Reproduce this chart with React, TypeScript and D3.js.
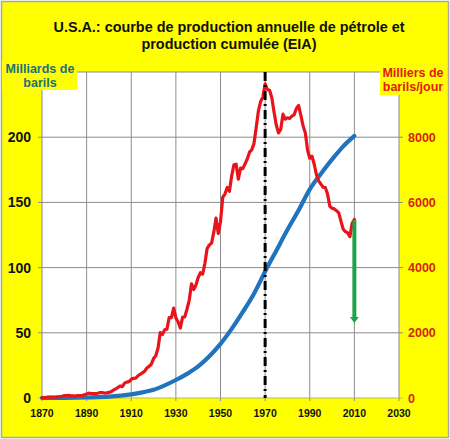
import * as d3 from 'd3';

// Production annuelle (milliers de barils/jour), 1870..2010
const prodYears = d3.range(1870, 2011);
const prodValues = [
  14, 14, 17, 27, 30, 24, 25, 37, 42, 55,
  72, 76, 83, 64, 66, 60, 77, 77, 75, 96,
  126, 149, 138, 133, 135, 145, 167, 166, 152, 156,
  174, 190, 243, 275, 320, 369, 347, 455, 488, 502,
  574, 604, 609, 681, 728, 770, 822, 919, 975, 1037,
  1210, 1294, 1527, 2007, 1951, 2092, 2112, 2469, 2463, 2760,
  2460, 2332, 2145, 2481, 2488, 2730, 3005, 3505, 3327, 3466,
  3697, 3842, 3799, 4125, 4584, 4695, 4751, 5088, 5520, 5046,
  5407, 6158, 6256, 6458, 6342, 6807, 7151, 7170, 6710, 7054,
  7035, 7183, 7332, 7542, 7614, 7804, 8295, 8810, 9096, 9238,
  9637, 9463, 9441, 9208, 8774, 8375, 8132, 8245, 8707, 8552,
  8597, 8572, 8649, 8688, 8879, 8971, 8680, 8349, 8140, 7613,
  7355, 7417, 7171, 6847, 6662, 6560, 6465, 6452, 6252, 5881,
  5822, 5801, 5746, 5681, 5419, 5178, 5102, 5064, 4950, 5361,
  5476,
];

// Production cumulée (milliards de barils)
const cumYears = [1870, 1880, 1890, 1900, 1910, 1915, 1920, 1925, 1930, 1935, 1940, 1945, 1950, 1955, 1960, 1965, 1970, 1975, 1980, 1985, 1990, 1995, 2000, 2005, 2010];
const cumValues = [0, 0.1, 0.4, 1.0, 2.8, 4.3, 6.3, 9.7, 13.8, 18.5, 24.2, 32, 41.5, 53, 66, 80, 97, 113, 129, 144, 160, 172, 183, 193, 201];

const xTicks = [1870, 1890, 1910, 1930, 1950, 1970, 1990, 2010, 2030];
const leftTicks = [0, 50, 100, 150, 200];
const rightTicks = [0, 2000, 4000, 6000, 8000];
const gridLeft = [50, 100, 150, 200, 250];

const peakYear = 1970;
const arrowYear = 2010;
const arrowFrom = 5450;
const arrowTo = 2300;

const W = 450;
const H = 439;
const margin = { top: 72, right: 51, bottom: 41, left: 42 };
const font = "'Liberation Sans', Arial, sans-serif";

export default function App() {
  const x = d3.scaleLinear().domain([1870, 2030]).range([margin.left, W - margin.right]);
  const yL = d3.scaleLinear().domain([0, 250]).range([H - margin.bottom, margin.top]);
  const yR = d3.scaleLinear().domain([0, 10000]).range([H - margin.bottom, margin.top]);

  const prodLine = d3.line<number>()
    .x((_, i) => x(prodYears[i]))
    .y(d => yR(d));
  const cumLine = d3.line<number>()
    .x((_, i) => x(cumYears[i]))
    .y(d => yL(d))
    .curve(d3.curveMonotoneX);

  const x0 = x(1870);
  const x1 = x(2030);
  const y0 = yL(0);
  const yTop = yL(250);
  const ax = x(arrowYear);
  const aTip = yR(arrowTo);

  return (
    <svg width={W} height={H} style={{ position: 'absolute', left: 0, top: 0 }} fontFamily={font}>
      <rect x={1.5} y={1.5} width={W - 3} height={H - 3} fill="#FFFF00" stroke="#A8A8A8" strokeWidth={1.5} />
      <text x={229} y={32} textAnchor="middle" fontSize={14.4} fontWeight="bold" fill="#111">
        U.S.A.: courbe de production annuelle de pétrole et
      </text>
      <text x={229} y={49} textAnchor="middle" fontSize={14.4} fontWeight="bold" fill="#111">
        production cumulée (EIA)
      </text>

      <rect x={x0} y={yTop} width={x1 - x0} height={y0 - yTop} fill="#FFFFFF" />
      {xTicks.map(t => (
        <line key={'vx' + t} x1={x(t)} x2={x(t)} y1={yTop} y2={y0 + 3} stroke="#8C8C8C" strokeWidth={1} />
      ))}
      {gridLeft.map(t => (
        <line key={'hy' + t} x1={x0 - 4} x2={x1 + 4} y1={yL(t)} y2={yL(t)} stroke="#8C8C8C" strokeWidth={1} />
      ))}
      <line x1={x0 - 4} x2={x1 + 4} y1={y0} y2={y0} stroke="#B8B860" strokeWidth={1} />

      <path d={cumLine(cumValues) || ''} fill="none" stroke="#1F74BD" strokeWidth={4.2} strokeLinecap="round" />
      <path d={prodLine(prodValues) || ''} fill="none" stroke="#E8141C" strokeWidth={3.2} strokeLinejoin="round" strokeLinecap="round" />

      <line x1={x(peakYear)} x2={x(peakYear)} y1={yTop} y2={y0} stroke="#000" strokeWidth={3} strokeDasharray="9,4,2,4" />

      <line x1={ax} x2={ax} y1={yR(arrowFrom)} y2={aTip - 4} stroke="#1FA34A" strokeWidth={4} />
      <path d={`M${ax - 4.5},${aTip - 6}L${ax + 4.5},${aTip - 6}L${ax},${aTip}Z`} fill="#1FA34A" />

      {leftTicks.map(t => (
        <text key={'l' + t} x={31} y={yL(t) + 5} textAnchor="end" fontSize={14} fontWeight="bold" fill="#111">{t}</text>
      ))}
      {rightTicks.map(t => (
        <text key={'r' + t} x={408} y={yR(t) + 4.5} textAnchor="start" fontSize={12.5} fontWeight="bold" fill="#D9230F">{t}</text>
      ))}
      {xTicks.map(t => (
        <text key={'x' + t} x={x(t)} y={417} textAnchor="middle" fontSize={10.5} fontWeight="bold" fill="#111">{t}</text>
      ))}

      <rect x={2} y={60} width={75} height={30} fill="#FFFF00" />
      <text x={40} y={73} textAnchor="middle" fontSize={12.5} fontWeight="bold" fill="#1E6E7E">Milliards de</text>
      <text x={40} y={87} textAnchor="middle" fontSize={12.5} fontWeight="bold" fill="#1E6E7E">barils</text>

      <rect x={380} y={62} width={67} height={33} fill="#FFFF00" />
      <text x={413} y={77} textAnchor="middle" fontSize={12.5} fontWeight="bold" fill="#E0200F">Milliers  de</text>
      <text x={413} y={91} textAnchor="middle" fontSize={12.5} fontWeight="bold" fill="#E0200F">barils/jour</text>
    </svg>
  );
}
